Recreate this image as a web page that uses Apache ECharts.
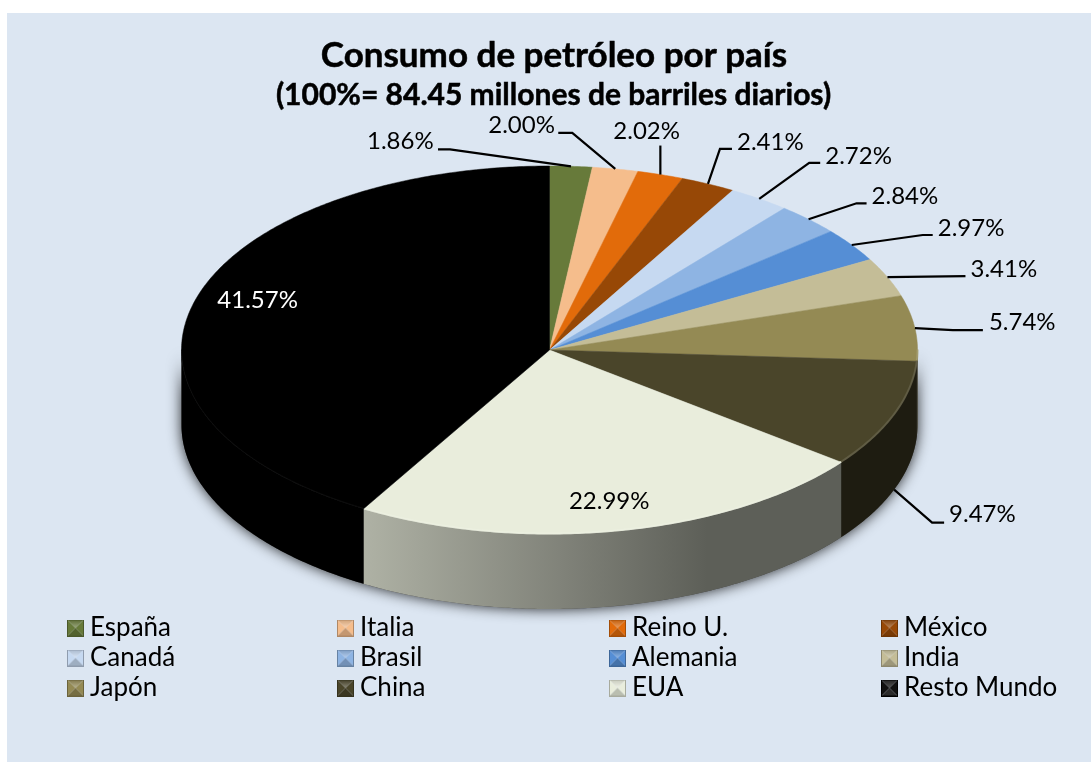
<!DOCTYPE html>
<html>
<head>
<meta charset="utf-8">
<title>Consumo de petróleo por país</title>
<style>
  html, body { margin: 0; padding: 0; background: #fff; }
  #main { width: 1091px; height: 762px; }
</style>
<script src="https://cdn.jsdelivr.net/npm/echarts@6/dist/echarts.min.js"></script>
</head>
<body>
<div id="main"></div>
<script>
const countries = ['España', 'Italia', 'Reino U.', 'México', 'Canadá', 'Brasil', 'Alemania', 'India', 'Japón', 'China', 'EUA', 'Resto Mundo']
const shares = [1.86, 2.00, 2.02, 2.41, 2.72, 2.84, 2.97, 3.41, 5.74, 9.47, 22.99, 41.57]
const colors = ['#677a3a', '#f5bd8c', '#e26b0a', '#974806', '#c6d9f1', '#8eb4e3', '#558ed5', '#c4bd97', '#948a54', '#4a452a', '#e9eddc', '#000000']

// leader lines and label boxes, as offsets from the rim point of each slice
const elbowOffsets = [[-121, -17], [-43, -36], null, [12, -35], [50, -36], [48, -16], [71, -10], null, [38, 2], [38, 33], null, null]
const endOffsets = [[-133, -17], [-57, -36], [0, -29], [24, -35], [61, -36], [58, -16], [81, -10], [78, -1], [68, 2], [50, 33], null, null]
const textOffsets = [[-204, -25], [-127, -44], [-47, -43], [29, -42], [66, -43], [63, -23], [86, -17], [83, -8], [74, -6], [55, 25], [-51, -29], [23, -2]]

const FONT = 'Lato, "Noto Sans", sans-serif'
const CX = 549.5, CY = 350, RX = 368, RY = 184, DEPTH = 75

// wall shading goes from lit on the left to dark on the right
const wallLeft = 0.75, wallRight = 0.40

const hexToRgb = (hex) => [1, 3, 5].map(i => parseInt(hex.substr(i, 2), 16))
const shade = (hex, f) => {
  const c = hexToRgb(hex).map(v => Math.min(255, Math.round(f >= 1 ? v + (255 - v) * (f - 1) : v * f)))
  return `rgb(${c[0]},${c[1]},${c[2]})`
}

const rim = (a, dy = 0) => [CX + RX * Math.sin(a), CY - RY * Math.cos(a) + dy]
const arcPoints = (a0, a1, dy = 0) => {
  const n = Math.max(2, Math.ceil((a1 - a0) / 0.01))
  const pts = []
  for (let i = 0; i <= n; i++) pts.push(rim(a0 + (a1 - a0) * i / n, dy))
  return pts
}

const starts = []
shares.reduce((sum, v, i) => { starts[i] = sum; return sum + v }, 0)

const bevelIcon = (color) => {
  const size = 17, c = 8.5
  const canvas = document.createElement('canvas')
  canvas.width = canvas.height = size
  const ctx = canvas.getContext('2d')
  const tri = (pts, fill) => {
    ctx.beginPath()
    pts.forEach((p, i) => i ? ctx.lineTo(p[0], p[1]) : ctx.moveTo(p[0], p[1]))
    ctx.closePath()
    ctx.fillStyle = fill
    ctx.fill()
  }
  const isBlack = color === '#000000'
  const up = ctx.createLinearGradient(0, 0, 0, c)
  up.addColorStop(0, isBlack ? '#222222' : shade(color, 0.85))
  up.addColorStop(1, isBlack ? '#555555' : shade(color, 1.35))
  tri([[0, 0], [size, 0], [c, c]], up)
  tri([[0, 0], [c, c], [0, size]], isBlack ? '#111111' : color)
  tri([[size, 0], [c, c], [size, size]], isBlack ? '#111111' : color)
  tri([[0, size], [size, size], [c, c]], isBlack ? '#2a2a2a' : shade(color, 0.8))
  ctx.strokeStyle = isBlack ? '#000000' : shade(color, 0.72)
  ctx.lineWidth = 1
  ctx.strokeRect(0.5, 0.5, size - 1, size - 1)
  return 'image://' + canvas.toDataURL()
}

const renderSlice = (idx) => (params, api) => {
  const a0 = api.value(0) / 100 * Math.PI * 2
  const a1 = (api.value(0) + api.value(1)) / 100 * Math.PI * 2
  const color = colors[idx]
  const children = []

  // side wall only shows on the front half of the pie
  const w0 = Math.max(a0, Math.PI / 2), w1 = Math.min(a1, Math.PI * 1.5)
  if (w1 > w0) {
    const top = arcPoints(w0, w1)
    const bottom = arcPoints(w0, w1, DEPTH).reverse()
    children.push({
      type: 'polygon',
      shape: { points: top.concat(bottom) },
      style: {
        fill: {
          type: 'linear', global: true, x: CX - 188, y: 0, x2: CX + 292, y2: 0,
          colorStops: [
            { offset: 0, color: shade(color, wallLeft) },
            { offset: 0.42, color: shade(color, 0.55) },
            { offset: 0.72, color: shade(color, wallRight) },
            { offset: 1, color: shade(color, wallRight) }
          ]
        }
      }
    })
  }

  children.push({
    type: 'polygon',
    shape: { points: [[CX, CY]].concat(arcPoints(a0, a1)) },
    style: { fill: color, stroke: color, lineWidth: 0.5 }
  })

  if (w1 > w0) {
    children.push({
      type: 'polyline',
      shape: { points: arcPoints(w0, w1, -0.5) },
      style: { fill: null, stroke: shade(color, idx === 11 ? 1.06 : 1.15), lineWidth: idx === 11 ? 1 : 2, opacity: 0.8 }
    })
  }

  // labels sit on the top rim, except the China one which hangs off the wall
  const mid = (a0 + a1) / 2
  const anchor = rim(mid, idx === 9 ? DEPTH : 0)
  const at = (o) => [anchor[0] + o[0], anchor[1] + o[1]]
  if (endOffsets[idx]) {
    const pts = [anchor]
    if (elbowOffsets[idx]) pts.push(at(elbowOffsets[idx]))
    pts.push(at(endOffsets[idx]))
    children.push({
      type: 'polyline',
      shape: { points: pts },
      style: { fill: null, stroke: '#000', lineWidth: 2.2 }
    })
  }
  const t = at(textOffsets[idx])
  children.push({
    type: 'text',
    x: t[0], y: t[1],
    style: {
      text: shares[idx].toFixed(2) + '%',
      font: '24px ' + FONT,
      fill: idx === 11 ? '#fff' : '#000',
      align: 'left',
      verticalAlign: 'middle'
    }
  })
  return { type: 'group', children }
}

const renderBase = (params, api) => ({
  type: 'polygon',
  shape: { points: arcPoints(Math.PI / 2, Math.PI * 1.5).concat(arcPoints(Math.PI / 2, Math.PI * 1.5, DEPTH).reverse()) },
  style: { fill: '#444', shadowBlur: 14, shadowColor: 'rgba(0,0,0,0.85)' }
})

const legendColumnX = [67, 337, 609, 881]
const legends = legendColumnX.map((left, col) => ({
  orient: 'vertical',
  left,
  top: 615,
  padding: 0,
  itemWidth: 17,
  itemHeight: 17,
  itemGap: 4,
  selectedMode: false,
  data: [0, 1, 2].map(row => {
    const i = row * 4 + col
    return { name: countries[i], icon: bevelIcon(colors[i]) }
  }),
  textStyle: { fontFamily: FONT, fontSize: 26, color: '#000', lineHeight: 25, padding: [0, 0, 0, 1] }
}))

const chart = echarts.init(document.getElementById('main'))
chart.setOption({
  animation: false,
  backgroundColor: '#fff',
  graphic: [{
    type: 'rect', z: -10, silent: true,
    shape: { x: 7, y: 13, width: 1084, height: 749 },
    style: { fill: '#dce6f2' }
  }],
  title: [
    {
      text: 'Consumo de petróleo por país',
      left: 554, top: 38, textAlign: 'center', padding: 0,
      textStyle: { fontFamily: FONT, fontWeight: 'bold', fontSize: 35, color: '#000', textBorderColor: '#000', textBorderWidth: 0.5 }
    },
    {
      text: '(100%= 84.45 millones de barriles diarios)',
      left: 553.5, top: 80, textAlign: 'center', padding: 0,
      textStyle: { fontFamily: FONT, fontWeight: 'bold', fontSize: 30, color: '#000', textBorderColor: '#000', textBorderWidth: 0.5 }
    }
  ],
  legend: legends,
  series: [
    { type: 'custom', coordinateSystem: 'none', silent: true, z: 1, renderItem: renderBase, data: [[0, 100]] },
    ...countries.map((name, i) => ({
      type: 'custom',
      name,
      coordinateSystem: 'none',
      silent: true,
      z: 2,
      itemStyle: { color: colors[i] },
      renderItem: renderSlice(i),
      data: [[starts[i], shares[i]]]
    }))
  ]
})
</script>
</body>
</html>
